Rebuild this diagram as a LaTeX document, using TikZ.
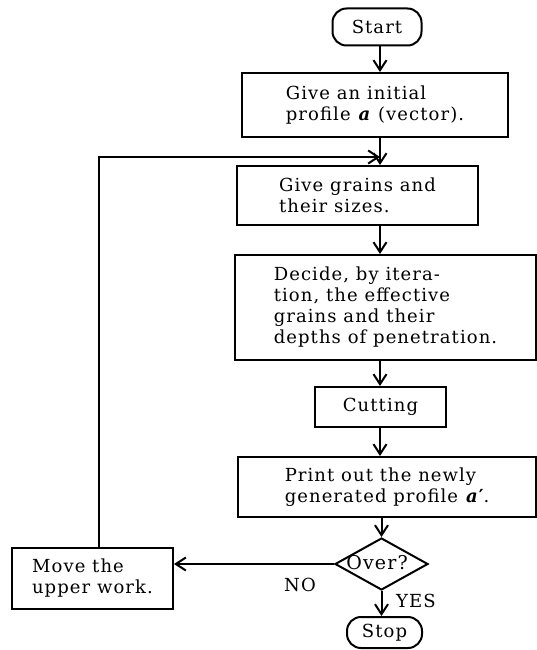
\documentclass[tikz,border=0pt]{standalone}
\usepackage{fontspec}
\setmainfont{DejaVu Serif}[LetterSpace=6]
\usepackage{tikz}
\usetikzlibrary{arrows.meta,shapes.geometric}

\tikzset{
  txt/.style={font=\fontsize{18}{21}\selectfont},
  box/.style={txt, draw, line width=2pt, rectangle, align=left, inner sep=0pt},
  term/.style={txt, draw, line width=2pt, rectangle, rounded corners=14pt, inner sep=0pt},
  flow/.style={line width=2pt, -{Straight Barb[length=10pt,width=13pt,line width=2pt]}}
}

\begin{document}
\begin{tikzpicture}[x=1pt,y=-1pt]
\useasboundingbox (0,0) rectangle (537,650);

% Terminals
\node[term, minimum width=89pt, minimum height=37pt] (start) at (377,27) {Start};
\node[term, minimum width=75pt, minimum height=31pt] (stop) at (384.5,632.5) {Stop};

% Process boxes
\node[box, minimum width=266pt, minimum height=64pt] (init) at (375,105)
  {Give an initial\\ profile \textbf{\textit{a}} (vector).};
\node[box, minimum width=241pt, minimum height=59pt] (grains) at (357.5,195.5)
  {Give grains and\\ their sizes.};
\node[box, minimum width=301pt, minimum height=105pt] (decide) at (385.5,307.5)
  {Decide, by itera-\\ tion, the effective\\ grains and their\\ depths of penetration.};
\node[box, minimum width=131pt, minimum height=40pt] (cut) at (380.5,407) {Cutting};
\node[box, minimum width=298pt, minimum height=60pt] (print) at (387,487)
  {Print out the newly\\ generated profile \textbf{\textit{a}′}.};
\node[box, minimum width=161pt, minimum height=61pt] (move) at (92.5,578.5)
  {Move the\\ upper work.};

% Decision
\node[draw, line width=2pt, diamond, aspect=1.8, inner sep=0pt,
  minimum width=93pt, minimum height=52pt] (over) at (381.5,564) {};
\node[txt, font=\fontsize{19}{21}\selectfont] (overtxt) at (377,563) {Over?};

% Main line
\coordinate (join) at (380,157);
\draw[flow] (start.south -| join) -- (init.north -| join);
\draw[line width=2pt] (init.south -| join) -- (join);
\draw[flow] (join) -- (grains.north -| join);
\draw[flow] (grains.south -| join) -- (decide.north -| join);
\draw[flow] (decide.south -| join) -- (cut.north -| join);
\draw[flow] (cut.south -| join) -- (print.north -| join);
\draw[flow] (print.south -| over) -- (over.north);
\draw[flow] (over.south) -- (stop.north -| over);

% Loop back
\coordinate (bend) at (99,157);
\draw[flow] (over.west) -- (over.west -| move.east);
\draw[flow] (move.north -| bend) -- (bend) -- (join);

% Labels
\node[txt] (no) at (300,585) {NO};
\node[txt] (yes) at (416,601) {YES};

\end{tikzpicture}
\end{document}
